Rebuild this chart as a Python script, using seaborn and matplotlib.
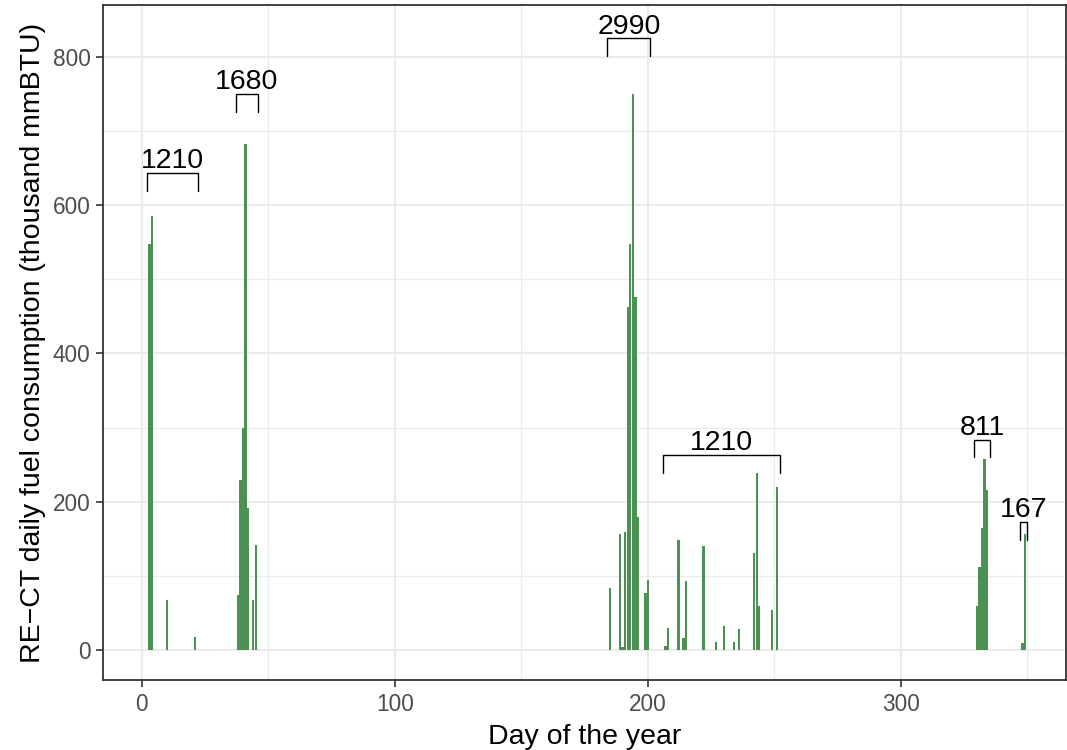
import numpy as np
import pandas as pd
import matplotlib
matplotlib.use("Agg")
import matplotlib.pyplot as plt
from matplotlib.ticker import MultipleLocator
import seaborn as sns

# daily fuel use (thousand mmBTU)
days = [3, 4, 10, 21,
        38, 39, 40, 41, 42, 44, 45,
        185, 189, 190, 191, 192, 193, 194, 195, 196, 199, 200,
        207, 208, 212, 214, 215, 222, 227, 230, 234, 236, 242, 243, 244, 249, 251,
        330, 331, 332, 333, 334,
        348, 349]
fuel = [547, 585, 68, 17,
        74, 229, 299, 682, 192, 67, 142,
        83, 157, 4, 159, 462, 548, 750, 476, 180, 77, 94,
        5, 30, 148, 16, 93, 140, 11, 32, 11, 28, 131, 239, 59, 54, 220,
        60, 112, 165, 258, 216,
        10, 157]

# episodes and their totals
cluster_first = [3, 38, 185, 207, 330, 348]
cluster_last = [21, 45, 200, 251, 334, 349]
cluster_labels = ["1210", "1680", "2990", "1210", "811", "167"]

df = pd.DataFrame({"day": days, "fuel": fuel})

sns.set_style("white")
plt.rcParams["font.family"] = ["Liberation Sans", "DejaVu Sans"]

fig, ax = plt.subplots(figsize=(10.67, 7.5), dpi=100)
fig.subplots_adjust(left=0.0965, right=0.999, bottom=0.0933, top=0.9933)

sns.barplot(data=df, x="day", y="fuel", native_scale=True, color="#4B9152",
            saturation=1, width=0.95, errorbar=None, ax=ax, zorder=3,
            linewidth=0, edgecolor="none")

# brackets with totals
for first, last, lab in zip(cluster_first, cluster_last, cluster_labels):
    top = df.loc[(df.day >= first) & (df.day <= last), "fuel"].max() * 1.1
    x0, x1 = first - 1, last + 1
    ax.plot([x0, x0, x1, x1], [top - 24, top, top, top - 24], color="black", lw=1.0, zorder=4)
    ax.annotate(lab, xy=((x0 + x1) / 2, top), xytext=(0, 3.5), textcoords="offset points",
                ha="center", va="baseline", fontsize=20.5, color="black")

ax.set_xlim(-15.4, 365.2)
ax.set_ylim(-40.5, 870)
ax.xaxis.set_major_locator(MultipleLocator(100))
ax.xaxis.set_minor_locator(MultipleLocator(50))
ax.yaxis.set_major_locator(MultipleLocator(200))
ax.yaxis.set_minor_locator(MultipleLocator(100))

ax.grid(which="major", color="#EBEBEB", lw=1.5, zorder=0)
ax.grid(which="minor", color="#EBEBEB", lw=0.9, zorder=0)
ax.set_axisbelow(True)

for s in ax.spines.values():
    s.set_color("#333333")
    s.set_linewidth(1.3)

ax.tick_params(which="major", length=5, width=1.2, color="#333333",
               labelsize=16.3, labelcolor="#4D4D4D", pad=4, bottom=True, left=True)
ax.tick_params(which="minor", length=0)

ax.set_xlabel("Day of the year", fontsize=20.5, color="black", labelpad=6)
ax.set_ylabel("RE\u2212CT daily fuel consumption (thousand mmBTU)", fontsize=20.5,
              color="black", labelpad=5)

fig.savefig("out.png", dpi=100)
